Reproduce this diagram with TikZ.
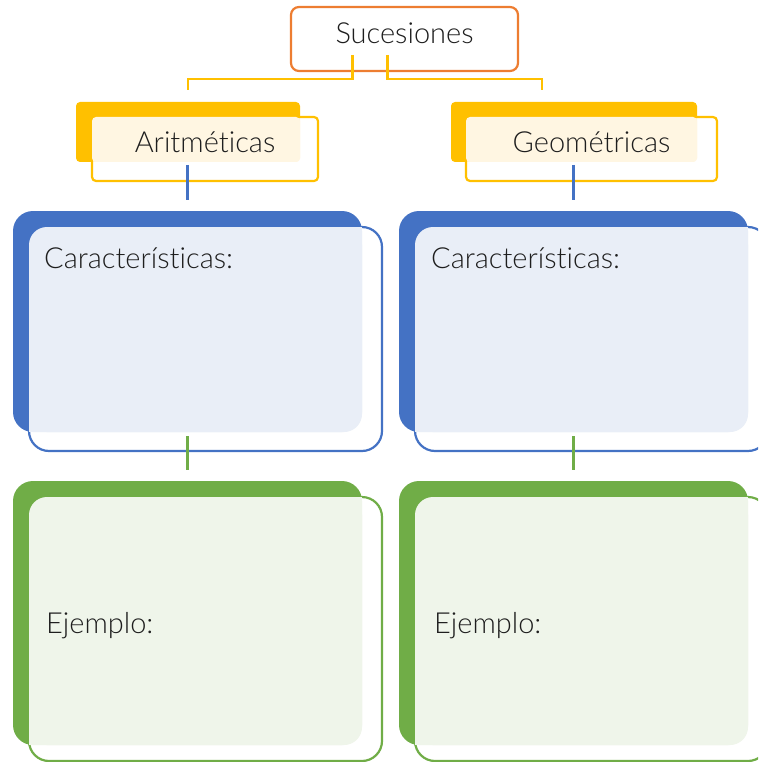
\documentclass[tikz,border=0pt]{standalone}
\usepackage{fontspec}
\setmainfont{Lato}[UprightFont=* Light, Ligatures={NoCommon}]
\usetikzlibrary{calc}
\definecolor{sorange}{RGB}{237,125,49}
\definecolor{syellow}{RGB}{255,192,0}
\definecolor{sblue}{RGB}{68,114,196}
\definecolor{sgreen}{RGB}{112,173,71}
\definecolor{lyellow}{RGB}{255,246,226}
\definecolor{lblue}{RGB}{233,238,247}
\definecolor{lgreen}{RGB}{239,245,234}
\definecolor{stext}{RGB}{30,30,30}
\tikzset{
  box/.style={anchor=north west, inner sep=0pt, outer sep=0pt},
  cardback/.style={box, fill=#1},
  cardfront/.style={box, draw=#1, line width=2.2pt, fill=white, fill opacity=0.85},
  link/.style={draw=#1, line width=2.4pt},
  textlabel/.style={anchor=base, inner sep=0pt, text=stext, font=\fontsize{29}{34}\selectfont},
  leftlabel/.style={textlabel, anchor=base west}
}

\begin{document}
\begin{tikzpicture}[x=1pt, y=-1pt]
            \useasboundingbox (0,0) rectangle (758,762);
            \clip (0,0) rectangle (758,762);
            % connectors
            \node[box, draw=sorange, line width=2.2pt, fill=white, fill opacity=0.85, rounded corners=8pt,
              minimum width=227pt, minimum height=64pt] (suc) at (291,7) {};
            \node[cardback=syellow, rounded corners=4pt, minimum width=224pt, minimum height=60pt] (aritBack) at (76,102) {};
            \node[cardback=syellow, rounded corners=4pt, minimum width=246pt, minimum height=60pt] (geoBack) at (451,102) {};
            \node[cardback=sblue, rounded corners=20pt, minimum width=349pt, minimum height=221pt] (charLBack) at (13,211) {};
            \node[cardback=sblue, rounded corners=20pt, minimum width=349pt, minimum height=221pt] (charRBack) at (399,211) {};
            \node[cardback=sgreen, rounded corners=20pt, minimum width=349pt, minimum height=264pt] (exLBack) at (13,481) {};
            \node[cardback=sgreen, rounded corners=20pt, minimum width=349pt, minimum height=264pt] (exRBack) at (399,481) {};

            \draw[link=syellow] ([xshift=-52pt,yshift=16pt]suc.south) -- ++(0,24) -| ([yshift=12pt]aritBack.north);
            \draw[link=syellow] ([xshift=-17pt,yshift=16pt]suc.south) -- ++(0,24) -| ([xshift=-32pt,yshift=12pt]geoBack.north);

            % front boxes
            \node[cardfront=syellow, rounded corners=4pt, minimum width=226pt, minimum height=64pt] (aritFront) at (92,117) {};
            \node[cardfront=syellow, rounded corners=4pt, minimum width=251pt, minimum height=64pt] (geoFront) at (466,117) {};
            \draw[link=sblue] ([yshift=16pt]aritFront.south -| charLBack.north) -- ([yshift=11pt]charLBack.north);
            \draw[link=sblue] ([yshift=16pt]geoFront.south -| charRBack.north) -- ([yshift=11pt]charRBack.north);
            \node[cardfront=sblue, rounded corners=20pt, minimum width=353pt, minimum height=224pt] (charLFront) at (29,227) {};
            \node[cardfront=sblue, rounded corners=20pt, minimum width=353pt, minimum height=224pt] (charRFront) at (415,227) {};
            \draw[link=sgreen] ([yshift=15pt]charLFront.south -| exLBack.north) -- ([yshift=11pt]exLBack.north);
            \draw[link=sgreen] ([yshift=15pt]charRFront.south -| exRBack.north) -- ([yshift=11pt]exRBack.north);
            \node[cardfront=sgreen, rounded corners=20pt, minimum width=353pt, minimum height=264pt] (exLFront) at (29,497) {};
            \node[cardfront=sgreen, rounded corners=20pt, minimum width=353pt, minimum height=264pt] (exRFront) at (415,497) {};

            % light panes
            \fill[lyellow, rounded corners=4pt] (aritFront.north west) rectangle (aritBack.south east);
            \fill[lyellow, rounded corners=4pt] (geoFront.north west) rectangle (geoBack.south east);
            \foreach \f/\b/\c in {charLFront/charLBack/lblue, charRFront/charRBack/lblue, exLFront/exLBack/lgreen, exRFront/exRBack/lgreen} {
              \fill[\c, rounded corners=18pt] (\f.north west) rectangle (\b.south east);
              \fill[\c] (\f.north west -| \b.east) rectangle ++(-20,20);
              \fill[\c] (\f.west |- \b.south) rectangle ++(20,-20);
            }

            % texts
            \node[textlabel] (sucText) at (404.5,44) {Sucesiones};
            \node[textlabel] (aritText) at (205,153) {Aritméticas};
            \node[textlabel] (geoText) at (591.5,153) {Geométricas};
            \node[leftlabel] (charLText) at (44,268) {Características:};
            \node[leftlabel] (charRText) at (431,268) {Características:};
            \node[leftlabel] (exLText) at (46,633) {Ejemplo:};
            \node[leftlabel] (exRText) at (434,633) {Ejemplo:};
        \end{tikzpicture}
\end{document}
